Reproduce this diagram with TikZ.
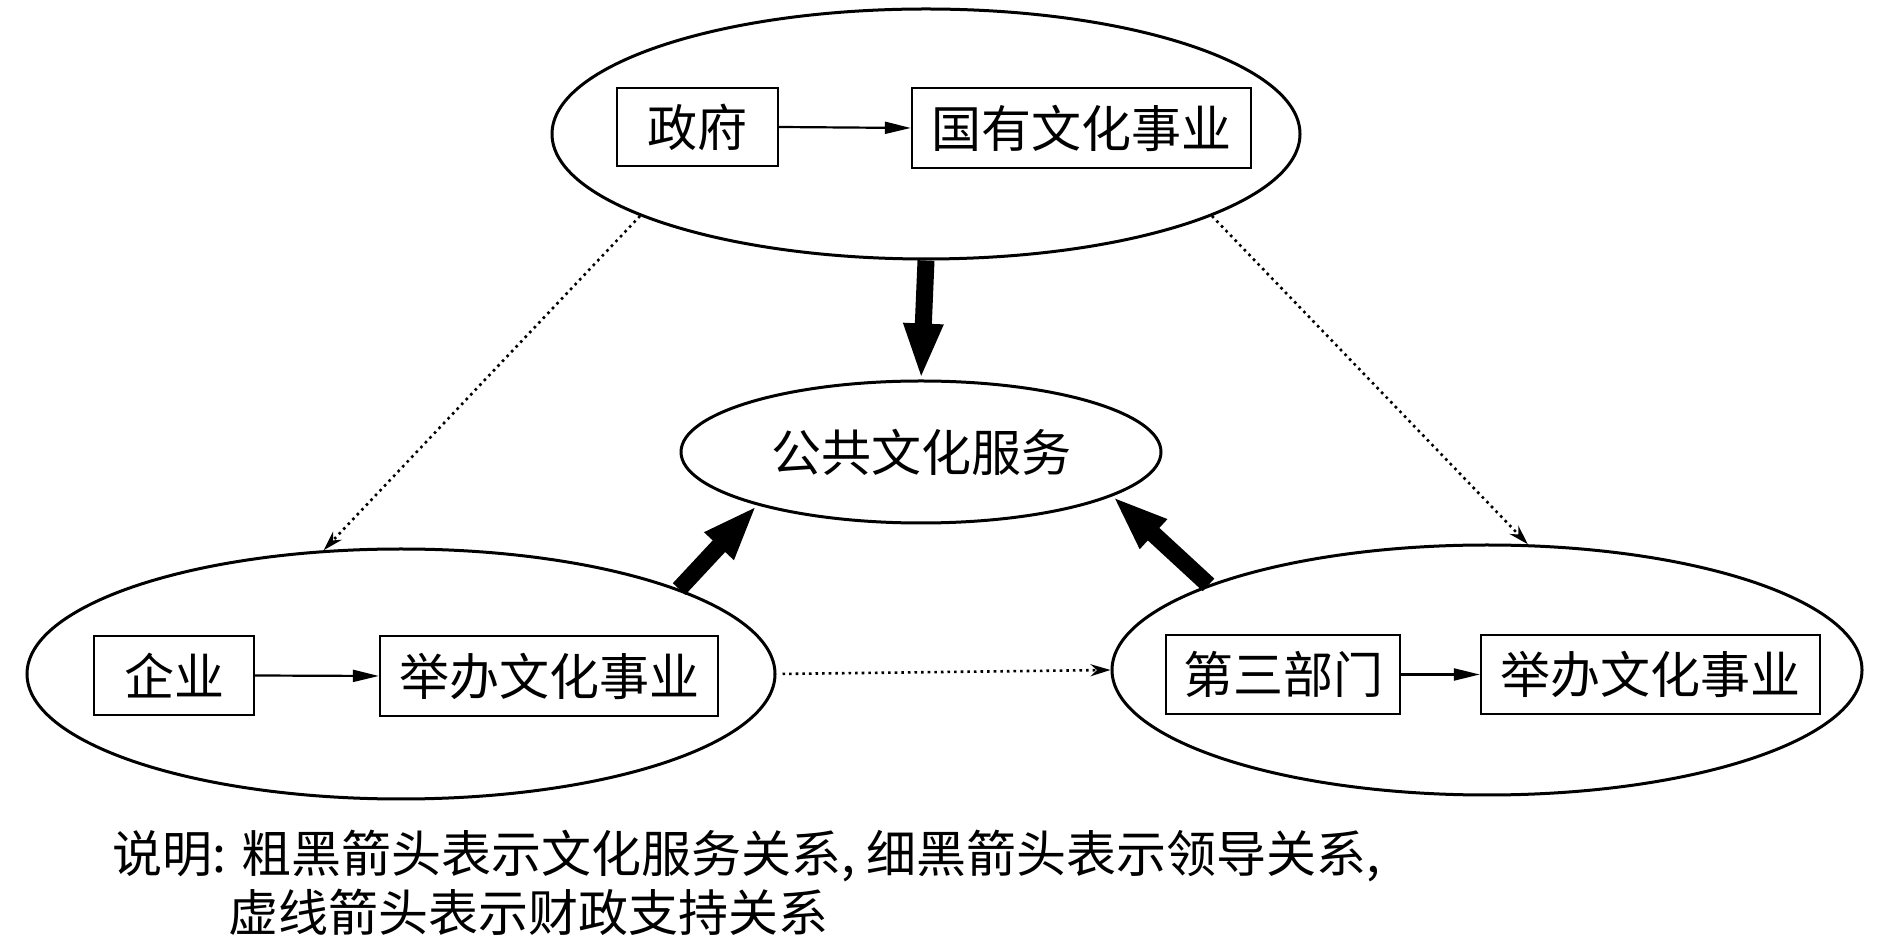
\documentclass[tikz,border=0pt]{standalone}
\usepackage{fontspec}
\setmainfont{Noto Sans CJK SC}
\usetikzlibrary{shapes.geometric,arrows.meta}
\begin{document}
\begin{tikzpicture}[x=0.5pt,y=-0.5pt,
  ell/.style={draw,ellipse,line width=1.5pt,inner sep=0pt},
  box/.style={draw,rectangle,line width=1.2pt,inner sep=0pt},
  txt/.style={font=\fontsize{25}{30}\selectfont},
  thinarrow/.style={-{Triangle[length=13pt,width=6pt]},line width=1.1pt},
  thickarrow/.style={-{Triangle[length=28pt,width=18pt]},line width=8.5pt},
  dotarrow/.style={-{Stealth[length=10pt,width=6pt]},dotted,line width=1.3pt}
]
\useasboundingbox (0,0) rectangle (1890,945);
% ellipses
\node[ell,minimum width=374pt,minimum height=125pt] (top) at (926,134) {};
\node[ell,minimum width=240pt,minimum height=71pt,txt] (ctr) at (921,452) {公共文化服务};
\node[ell,minimum width=374pt,minimum height=125pt] (left) at (401,674) {};
\node[ell,minimum width=375pt,minimum height=125pt] (right) at (1487,670) {};
% boxes
\node[box,txt,minimum width=80.5pt,minimum height=39pt] (gov) at (697.5,127) {政府};
\node[box,txt,minimum width=169.5pt,minimum height=40pt] (state) at (1081.5,128) {国有文化事业};
\node[box,txt,minimum width=80pt,minimum height=39.5pt] (ent) at (174,675.5) {企业};
\node[box,txt,minimum width=169pt,minimum height=40pt] (runL) at (549,676) {举办文化事业};
\node[box,txt,minimum width=117pt,minimum height=39.5pt] (third) at (1283,674.5) {第三部门};
\node[box,txt,minimum width=169.5pt,minimum height=39.5pt] (runR) at (1650.5,674.5) {举办文化事业};
% thin arrows
\draw[thinarrow] (gov.east) -- (state.west);
\draw[thinarrow] (ent.east) -- (runL.west);
\draw[thinarrow] (third.east) -- (runR.west);
% thick arrows
\draw[thickarrow] (top.south) -- (ctr.north);
\draw[thickarrow] (left.17) -- (ctr.198);
\draw[thickarrow] (right.163) -- (ctr.347);
% dotted arrows
\draw[dotarrow] (top.196) -- (left.122);
\draw[dotarrow] (top.344) -- (right.72);
\draw[dotarrow,shorten <=3pt] (left.east) -- (right.west);
% legend
\node[anchor=west,inner sep=0pt,txt] (leg1) at (112,856) {说明: 粗黑箭头表示文化服务关系, 细黑箭头表示领导关系,};
\node[anchor=west,inner sep=0pt,txt] (leg2) at (228,912) {虚线箭头表示财政支持关系};
\end{tikzpicture}
\end{document}
